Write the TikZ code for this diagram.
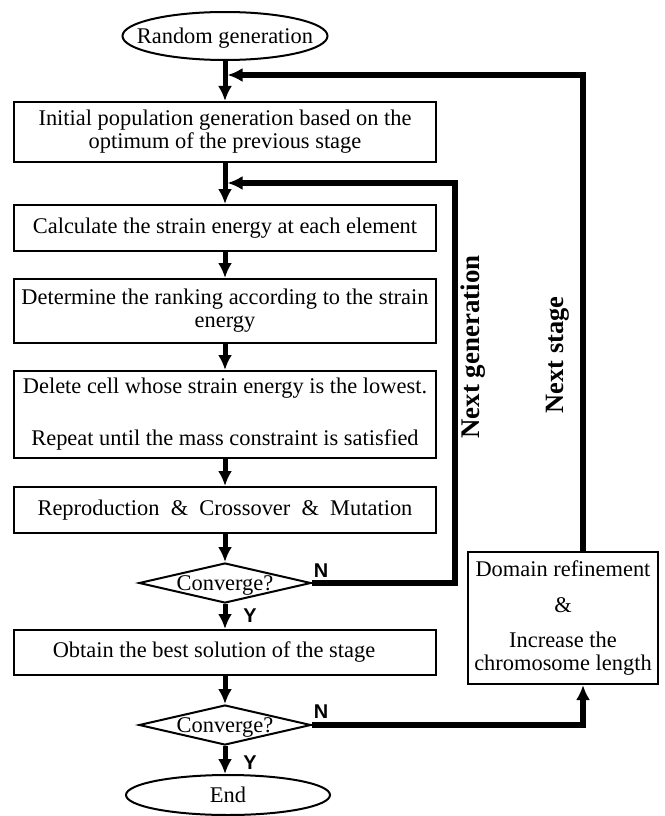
\documentclass[tikz,border=0pt]{standalone}
\usepackage{fontspec}
\setmainfont{Liberation Serif}
\newfontfamily\lsans{Liberation Sans}
\usetikzlibrary{shapes.geometric,arrows.meta}
\newcommand{\ztext}[1]{\smash{\raisebox{-.33em}{\makebox[0pt]{#1}}}}
\begin{document}
\begin{tikzpicture}[x=1bp,y=-1bp,
  txt/.style={font=\fontsize{22.5}{23}\selectfont},
  box/.style={txt,draw,line width=2bp,minimum width=421bp,inner sep=0pt,align=center},
  ell/.style={txt,draw,line width=2bp,ellipse,minimum width=205bp,minimum height=48bp,inner sep=0pt},
  dia/.style={txt,draw,line width=2bp,diamond,minimum width=172bp,minimum height=40bp,inner sep=0pt},
  arr/.style={line width=5bp,-{Latex[length=15bp,width=14bp]}},
  fbl/.style={line width=5.5bp,line join=miter},
  fba/.style={fbl,-{Latex[length=15bp,width=14bp]}},
  yn/.style={font=\lsans\bfseries\fontsize{20}{20}\selectfont,inner sep=0pt},
  side/.style={rotate=90,font=\bfseries\fontsize{27}{27}\selectfont,inner sep=0pt}]
\useasboundingbox (0,0) rectangle (665,816);
\node[ell] (start) at (225,36) {\ztext{Random generation}};
\node[box,minimum height=60bp] (b1) at (225,132) {Initial population generation based on the\\optimum of the previous stage};
\node[box,minimum height=46bp] (b2) at (225,228) {Calculate the strain energy at each element};
\node[box,minimum height=64bp] (b3) at (225,311) {Determine the ranking according to the strain\\energy};
\node[box,minimum height=87bp] (b4) at (225,414.5) {Delete cell whose strain energy is the lowest.\\[29bp]Repeat until the mass constraint is satisfied};
\node[box,minimum height=46bp] (b5) at (225,510) {Reproduction\enspace\&\enspace Crossover\enspace\&\enspace Mutation};
\node[dia] (d1) at (225,583) {\ztext{Converge?}};
\node[box,minimum height=45bp] (b6) at (225,652.5) {Obtain the best solution of the stage\hspace*{22bp}};
\node[dia] (d2) at (225,725) {\ztext{Converge?}};
\node[ell,minimum width=204bp,minimum height=40bp] (end) at (228,795) {\ztext{End}};
\node[txt,draw,line width=2bp,minimum width=190bp,minimum height=132bp,inner sep=0pt,align=center] (dom) at (563,618) {Domain refinement\\[13bp]\&\\[13bp]Increase the\\chromosome length};

\coordinate (fa) at (583,75);
\coordinate (fb) at (455,183);

\draw[arr] (start.south) -- (b1.north);
\draw[arr] (b1.south) -- (b2.north);
\draw[arr] (b2.south) -- (b3.north);
\draw[arr] (b3.south) -- (b4.north);
\draw[arr] (b4.south) -- (b5.north);
\draw[arr] (b5.south) -- (d1.north);
\draw[arr] (d1.south) -- (b6.north);
\draw[arr] (b6.south) -- (d2.north);
\draw[arr] (d2.south) -- (d2.south |- end.north);

\draw[fba] (d1.east) -| (fb) -- ([xshift=2.5bp]fb -| start.south);
\draw[fba] (d2.east) -| (dom.south -| fa);
\draw[fba] (dom.north -| fa) -- (fa) -- ([xshift=2.5bp]fa -| start.south);

\node[yn] (n1) at (321,571) {N};
\node[yn] (n2) at (321,712) {N};
\node[yn] (y1) at (250,616) {Y};
\node[yn] (y2) at (250,763) {Y};
\node[side] (ng) at (473,347) {Next generation};
\node[side,font=\bfseries\fontsize{26.5}{26.5}\selectfont] (ns) at (558,355) {Next stage};
\end{tikzpicture}
\end{document}
